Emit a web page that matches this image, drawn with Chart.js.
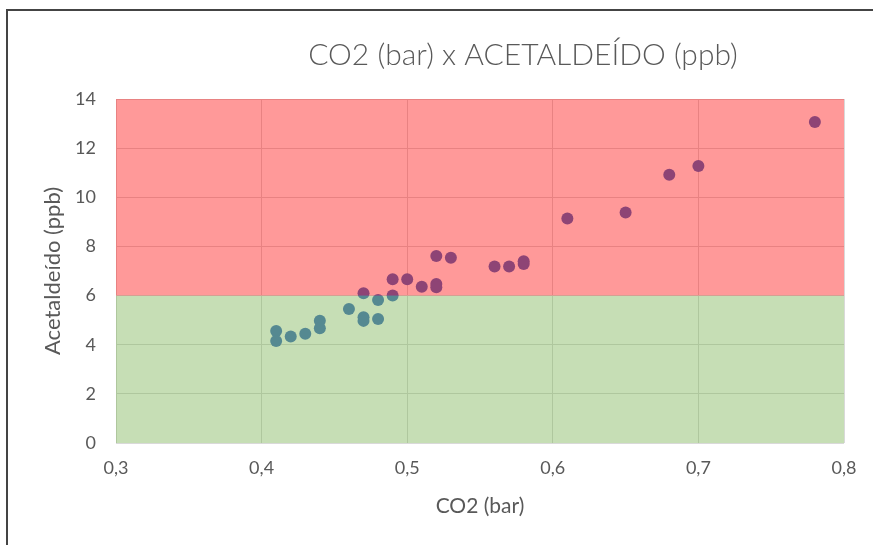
<!DOCTYPE html>
<html>
<head>
<meta charset="utf-8">
<script src="https://cdn.jsdelivr.net/npm/chart.js@4"></script>
<style>
  html, body { margin: 0; padding: 0; background: #fff; }
  #wrap { width: 873px; height: 545px; }
</style>
</head>
<body>
<div id="wrap"><canvas id="co2Chart" width="873" height="545"></canvas></div>
<script>
// CO2 (bar) measured per sample
var co2 = [0.41, 0.41, 0.42, 0.43, 0.44, 0.44, 0.46, 0.47, 0.47, 0.47,
           0.48, 0.48, 0.49, 0.49, 0.50, 0.51, 0.52, 0.52, 0.52, 0.53,
           0.56, 0.57, 0.58, 0.58, 0.61, 0.65, 0.68, 0.70, 0.78];
// acetaldeído (ppb) for the same samples
var acetaldeido = [4.56, 4.15, 4.33, 4.45, 4.98, 4.67, 5.45, 5.12, 4.97, 6.09,
                   5.82, 5.05, 6.00, 6.66, 6.66, 6.36, 7.61, 6.47, 6.34, 7.54,
                   7.18, 7.18, 7.28, 7.40, 9.14, 9.38, 10.92, 11.27, 13.06];

// zones: ok below 6 ppb, out of spec above
var zoneLimits = [0, 6, 14];
var zoneColors = ['rgba(112, 173, 71, 0.4)', 'rgba(255, 0, 0, 0.4)'];

var xTicks = ['0,3', '0,4', '0,5', '0,6', '0,7', '0,8'];

var chartTitle = 'CO2 (bar) x ACETALDEÍDO (ppb)';

var font = "Lato, 'Open Sans', sans-serif";
var grey = '#595959';

var points = co2.map(function(x, i) { return { x: x, y: acetaldeido[i] }; });

// translucent zone bands laid over the markers
var zonePlugin = {
    id: 'zones',
    afterDatasetsDraw: function(chart) {
        var ctx = chart.ctx, area = chart.chartArea, y = chart.scales.y;
        ctx.save();
        for (var i = 0; i < zoneColors.length; i++) {
            var top = y.getPixelForValue(zoneLimits[i + 1]);
            var bottom = y.getPixelForValue(zoneLimits[i]);
            ctx.fillStyle = zoneColors[i];
            ctx.fillRect(area.left, top, area.right - area.left, bottom - top);
        }
        ctx.restore();
    }
};

// outer frame of the chart box plus the heading (centred on the full box, which runs past the canvas)
var framePlugin = {
    id: 'frame',
    afterDraw: function(chart) {
        var ctx = chart.ctx;
        ctx.save();
        ctx.strokeStyle = '#444';
        ctx.lineWidth = 2;
        ctx.strokeRect(7, 10, 900, 600);
        ctx.fillStyle = grey;
        ctx.font = '300 30px ' + font;
        ctx.textAlign = 'center';
        ctx.textBaseline = 'middle';
        ctx.fillText(chartTitle, 523, 55);
        ctx.restore();
    }
};

var ctx = document.getElementById('co2Chart').getContext('2d');

var co2Chart = new Chart(ctx, {
    type: 'scatter',
    data: {
        datasets: [{
            label: 'Acetaldeído',
            data: points,
            backgroundColor: '#4472C4',
            borderWidth: 0,
            pointRadius: 6,
            pointHoverRadius: 6
        }]
    },
    options: {
        responsive: false,
        animation: false,
        layout: { padding: { left: 0, right: 29, top: 99, bottom: 0 } },
        plugins: {
            legend: { display: false },
            tooltip: { enabled: false },
            title: { display: false }
        },
        scales: {
            x: {
                type: 'linear',
                min: 0.3,
                max: 0.8,
                grid: { color: '#D9D9D9', drawTicks: false },
                border: { display: false },
                afterFit: function(scale) { scale.height = 102; },
                afterBuildTicks: function(scale) {
                    scale.ticks = xTicks.map(function(t) {
                        return { value: parseFloat(t.replace(',', '.')) };
                    });
                },
                ticks: {
                    color: grey,
                    font: { family: font, size: 18 },
                    padding: 14,
                    callback: function(v, i) { return xTicks[i]; }
                },
                title: {
                    display: true,
                    text: 'CO2 (bar)',
                    color: grey,
                    font: { family: font, size: 21 },
                    padding: { top: 0, bottom: 26 }
                }
            },
            y: {
                min: 0,
                max: 14,
                grid: { color: '#D9D9D9', drawTicks: false },
                border: { display: false },
                afterFit: function(scale) { scale.width = 116; },
                ticks: {
                    stepSize: 2,
                    color: grey,
                    font: { family: font, size: 18 },
                    padding: 20
                },
                title: {
                    display: true,
                    text: 'Acetaldeído (ppb)',
                    color: grey,
                    font: { family: font, size: 22 },
                    padding: { top: 40, bottom: 0 }
                }
            }
        }
    },
    plugins: [zonePlugin, framePlugin]
});
</script>
</body>
</html>
